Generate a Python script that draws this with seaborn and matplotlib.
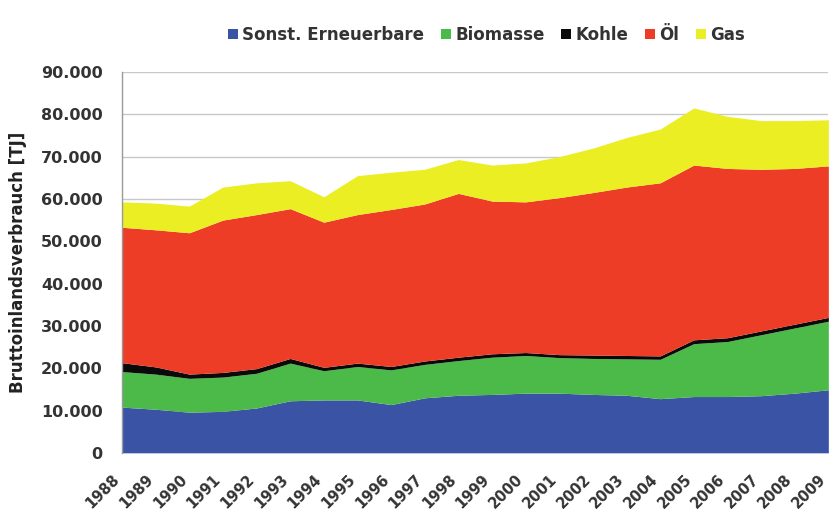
import matplotlib
matplotlib.use("Agg")
import matplotlib.pyplot as plt
import matplotlib.ticker as mticker
import matplotlib.transforms as mtransforms
import seaborn as sns

years = list(range(1988, 2010))
sonst_erneuerbare = [10800, 10300, 9600, 9800, 10600, 12300, 12500, 12500, 11400, 13000, 13600,
                     13800, 14100, 14100, 13800, 13600, 12800, 13300, 13300, 13500, 14100, 14900]
biomasse = [8400, 8300, 8000, 8100, 8200, 8900, 6900, 7900, 8200, 7900, 8200,
            8800, 8900, 8400, 8500, 8600, 9300, 12500, 13000, 14400, 15400, 16200]
kohle = [2100, 1700, 1000, 1100, 1100, 1100, 800, 800, 800, 800, 800,
         800, 700, 700, 800, 800, 800, 900, 900, 900, 900, 900]
oel = [32000, 32400, 33400, 36000, 36400, 35400, 34300, 35100, 37100, 37100, 38700,
       36100, 35600, 37100, 38400, 39800, 40900, 41300, 40000, 38200, 36800, 35800]
gas = [6000, 6300, 6300, 7800, 7500, 6600, 6000, 9200, 8800, 8200, 8000,
       8500, 9200, 9700, 10500, 11700, 12700, 13500, 12300, 11500, 11300, 10900]

labels = ["Sonst. Erneuerbare", "Biomasse", "Kohle", "Öl", "Gas"]
colors = ["#3b53a5", "#4cba48", "#0a0a0a", "#ee3d27", "#eaee22"]

sns.set_theme(style="whitegrid")
plt.rcParams['font.family'] = ['DejaVu Sans']

fig = plt.figure(figsize=(8.3, 5.29), dpi=100)
ax = fig.add_axes([0.147, 0.144, 0.851, 0.72])

ax.stackplot(years, sonst_erneuerbare, biomasse, kohle, oel, gas,
             labels=labels, colors=colors, linewidth=0)

ax.set_xlim(1988, 2009)
ax.set_ylim(0, 90000)
ax.tick_params(axis="x", pad=4)
ax.tick_params(axis="y", pad=8)
ax.yaxis.set_major_locator(mticker.MultipleLocator(10000))
ax.yaxis.set_major_formatter(mticker.FuncFormatter(lambda v, p: f"{int(v):,}".replace(",", ".")))
ax.set_xticks(years)
ax.set_xticklabels([str(y) for y in years], rotation=45, ha="right",
                   rotation_mode="anchor", fontsize=10.5, fontweight="bold", color="#333333")
# shift the year labels a bit left/down like in the original
shift = mtransforms.ScaledTranslation(-10 / 100, -5 / 100, fig.dpi_scale_trans)
for lbl in ax.get_xticklabels():
    lbl.set_transform(lbl.get_transform() + shift)
plt.setp(ax.get_yticklabels(), fontsize=11.5, fontweight="bold", color="#333333")

ax.grid(axis="x", visible=False)
ax.grid(axis="y", color="#c8c8c8", linewidth=1)
ax.set_axisbelow(True)
for side in ["top", "right", "bottom"]:
    ax.spines[side].set_visible(False)
ax.spines["left"].set_color("#9a9a9a")
ax.spines["left"].set_linewidth(1)

ax.set_ylabel("Bruttoinlandsverbrauch [TJ]", fontsize=12, fontweight="bold", color="#222222", labelpad=10)

leg = ax.legend(loc="center", bbox_to_anchor=(0.516, 1.097), ncol=5, frameon=False,
                handlelength=0.6, handleheight=0.6, handletextpad=0.25, columnspacing=1.0,
                prop={"size": 12, "weight": "bold"})
for t in leg.get_texts():
    t.set_color("#333333")

fig.savefig("out.png", dpi=100)
